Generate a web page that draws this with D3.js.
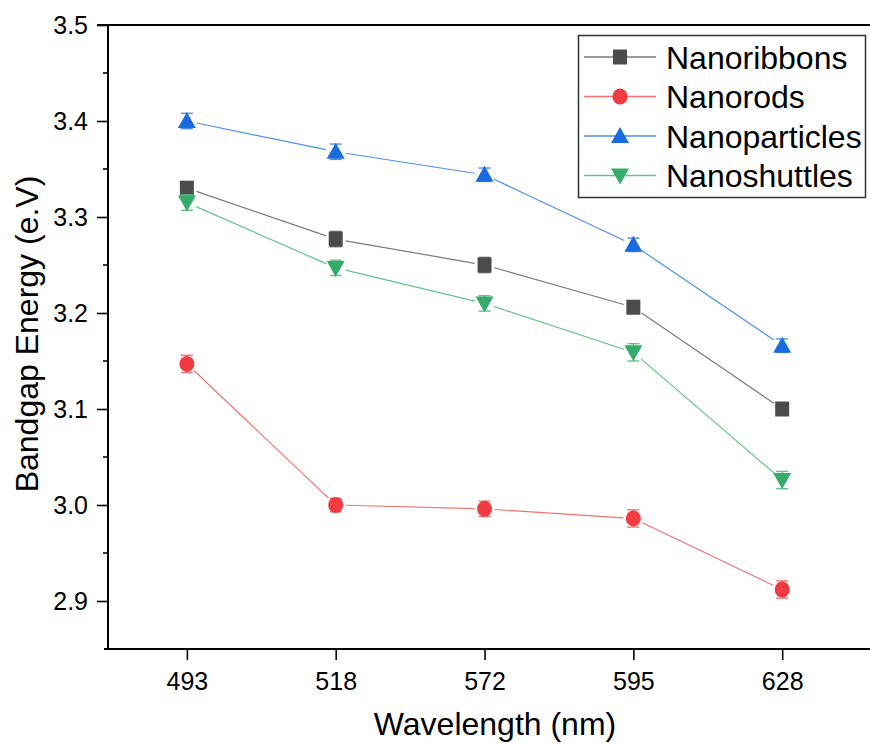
<!DOCTYPE html>
<html>
<head>
<meta charset="utf-8">
<script src="https://cdn.jsdelivr.net/npm/d3@7"></script>
<style>
  body { margin: 0; background: #fff; }
  text { font-family: Arial, "Liberation Sans", sans-serif; fill: #000; }
</style>
</head>
<body>
<div id="chart"></div>
<script>
// Data
var wavelengths = ["493", "518", "572", "595", "628"];
var seriesNames = ["Nanoribbons", "Nanorods", "Nanoparticles", "Nanoshuttles"];
var nanoribbons = [3.330, 3.277, 3.250, 3.206, 3.100];
var nanorods = [3.147, 3.000, 2.996, 2.986, 2.912];
var nanoparticles = [3.400, 3.368, 3.344, 3.271, 3.166];
var nanoshuttles = [3.315, 3.247, 3.210, 3.159, 3.026];
var ribbonsErr = [0.006, 0.008, 0.008, 0.006, 0.006];
var rodsErr = [0.009, 0.007, 0.008, 0.009, 0.009];
var particlesErr = [0.008, 0.008, 0.007, 0.007, 0.007];
var shuttlesErr = [0.008, 0.008, 0.008, 0.009, 0.009];
var yTicks = [2.9, 3.0, 3.1, 3.2, 3.3, 3.4, 3.5];

var svgWidth = 870, svgHeight = 744;
var plot = { left: 108, right: 870, top: 25, bottom: 649 };

var svg = d3.select("#chart").append("svg")
    .attr("width", svgWidth)
    .attr("height", svgHeight);

var xScale = d3.scaleLinear().domain([-0.53, 4.59]).range([plot.left, plot.right]);
var yScale = d3.scaleLinear().domain([2.85, 3.5]).range([plot.bottom, plot.top]);

var series = [
    { name: seriesNames[0], values: nanoribbons, err: ribbonsErr, shape: "square", fill: "#4b4b4b", line: "#7a7a7a" },
    { name: seriesNames[1], values: nanorods, err: rodsErr, shape: "circle", fill: "#f03c40", line: "#f47272" },
    { name: seriesNames[2], values: nanoparticles, err: particlesErr, shape: "up", fill: "#1b6be0", line: "#4e8ff0" },
    { name: seriesNames[3], values: nanoshuttles, err: shuttlesErr, shape: "down", fill: "#35ac69", line: "#63c28b" }
];

// symbol path centred on 0,0
function symbolPath(shape) {
    if (shape === "square") return "M-7,-7.5H7V7.5H-7Z";
    if (shape === "circle") return "M-7.5,0A7.5,8 0 1,0 7.5,0A7.5,8 0 1,0 -7.5,0Z";
    if (shape === "up") return "M0,-9L9,7H-9Z";
    return "M0,9L9,-7H-9Z";
}

/* ---------- axes ---------- */
var leftAxis = d3.axisLeft(yScale).tickValues(yTicks).tickFormat(d3.format(".1f"))
    .tickSize(11).tickPadding(9);
var gy = svg.append("g").attr("transform", `translate(${plot.left},0)`).call(leftAxis);
gy.select(".domain").remove();
gy.selectAll("line").attr("stroke", "#000").attr("stroke-width", 1.6);
gy.selectAll("text").attr("font-size", 25).style("font-family", "Arial, 'Liberation Sans', sans-serif");

// minor ticks
svg.append("g").selectAll("line")
    .data(d3.range(2.95, 3.5, 0.1))
    .enter().append("line")
    .attr("x1", plot.left - 5).attr("x2", plot.left)
    .attr("y1", d => yScale(d)).attr("y2", d => yScale(d))
    .attr("stroke", "#000").attr("stroke-width", 1.6);

var bottomAxis = d3.axisBottom(xScale).tickValues(d3.range(wavelengths.length))
    .tickFormat(i => wavelengths[i]).tickSize(11).tickPadding(12);
var gx = svg.append("g").attr("transform", `translate(0,${plot.bottom})`).call(bottomAxis);
gx.select(".domain").remove();
gx.selectAll("line").attr("stroke", "#000").attr("stroke-width", 1.6);
gx.selectAll("text").attr("font-size", 25).style("font-family", "Arial, 'Liberation Sans', sans-serif");

// axis lines
svg.append("line").attr("x1", plot.left).attr("x2", plot.left)
    .attr("y1", plot.top).attr("y2", plot.bottom)
    .attr("stroke", "#000").attr("stroke-width", 2);
svg.append("line").attr("x1", 104).attr("x2", plot.right)
    .attr("y1", plot.bottom).attr("y2", plot.bottom)
    .attr("stroke", "#000").attr("stroke-width", 2);
svg.append("line").attr("x1", 97).attr("x2", plot.right)
    .attr("y1", plot.top).attr("y2", plot.top)
    .attr("stroke", "#000").attr("stroke-width", 2);

// axis titles
svg.append("text")
    .attr("transform", "translate(38,334) rotate(-90)")
    .attr("text-anchor", "middle")
    .attr("font-size", 32)
    .text("Bandgap Energy (e.V)");
svg.append("text")
    .attr("x", 495).attr("y", 735)
    .attr("text-anchor", "middle")
    .attr("font-size", 32)
    .text("Wavelength (nm)");

/* ---------- series ---------- */
var gap = 10;
series.forEach(function(s) {
    var pts = s.values.map((v, i) => [xScale(i), yScale(v)]);
    var g = svg.append("g");
    // connecting segments, trimmed around the symbols
    for (var i = 0; i < pts.length - 1; i++) {
        var a = pts[i], b = pts[i + 1];
        var dx = b[0] - a[0], dy = b[1] - a[1];
        var len = Math.sqrt(dx * dx + dy * dy);
        var ux = dx / len, uy = dy / len;
        g.append("line")
            .attr("x1", a[0] + ux * gap).attr("y1", a[1] + uy * gap)
            .attr("x2", b[0] - ux * gap).attr("y2", b[1] - uy * gap)
            .attr("stroke", s.line).attr("stroke-width", 1.2);
    }
    // error bars
    s.values.forEach(function(v, i) {
        var x = xScale(i), y1 = yScale(v - s.err[i]), y2 = yScale(v + s.err[i]);
        g.append("line").attr("x1", x).attr("x2", x).attr("y1", y1).attr("y2", y2)
            .attr("stroke", s.line).attr("stroke-width", 1.2);
        [y1, y2].forEach(function(y) {
            g.append("line").attr("x1", x - 6).attr("x2", x + 6).attr("y1", y).attr("y2", y)
                .attr("stroke", s.line).attr("stroke-width", 1.4);
        });
    });
    g.selectAll(".sym").data(s.values).enter().append("path")
        .attr("class", "sym")
        .attr("d", symbolPath(s.shape))
        .attr("transform", (v, i) => `translate(${xScale(i)},${yScale(v)})`)
        .attr("fill", s.fill);
});

/* ---------- legend ---------- */
var legend = svg.append("g");
legend.append("rect")
    .attr("x", 578.5).attr("y", 35.5).attr("width", 287).attr("height", 162)
    .attr("fill", "#fff").attr("stroke", "#333").attr("stroke-width", 1.5);
series.forEach(function(s, i) {
    var y = 57 + i * 39.5;
    legend.append("line").attr("x1", 584).attr("x2", 656).attr("y1", y).attr("y2", y)
        .attr("stroke", s.line).attr("stroke-width", 1.3);
    legend.append("path").attr("d", symbolPath(s.shape))
        .attr("transform", `translate(620,${y})`).attr("fill", s.fill);
    legend.append("text").attr("x", 666).attr("y", y).attr("dy", "0.36em")
        .attr("font-size", 32).text(s.name);
});
</script>
</body>
</html>
